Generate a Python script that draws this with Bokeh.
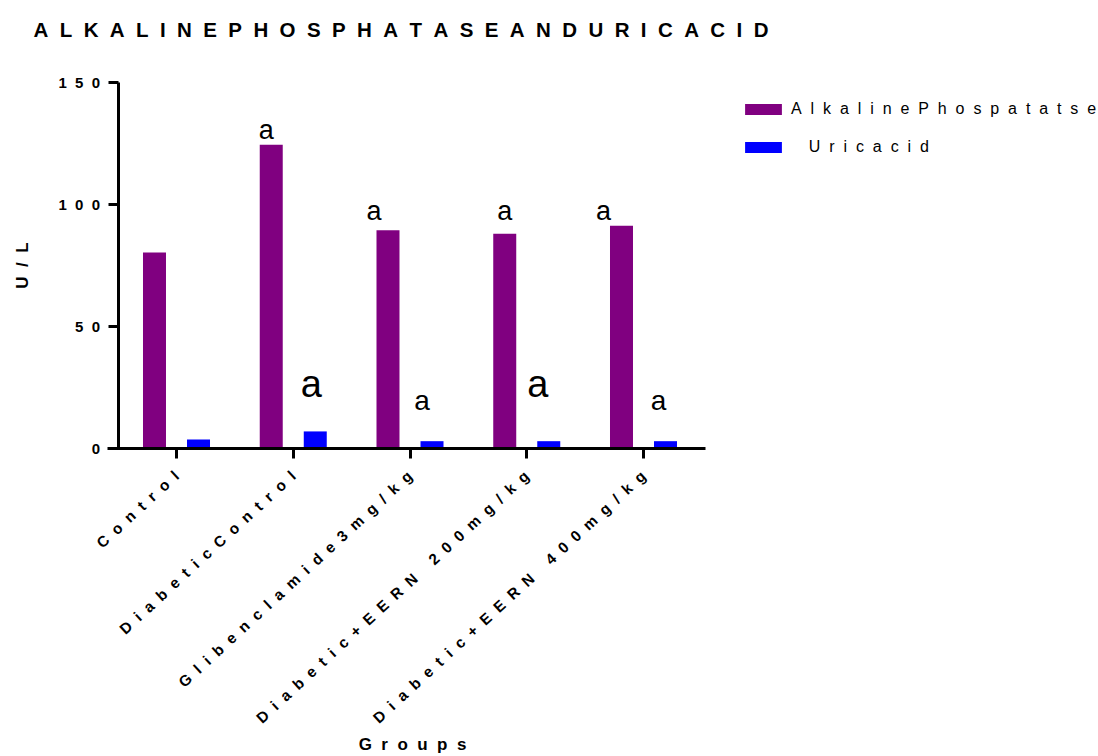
import math

from bokeh.core.properties import value
from bokeh.embed import file_html
from bokeh.models import ColumnDataSource, FixedTicker, Label, Legend, LegendItem
from bokeh.plotting import figure
from bokeh.resources import INLINE
from bokeh.transform import dodge

# ---- data -------------------------------------------------------------
groups = [
    "Control",
    "DiabeticControl",
    "Glibenclamide3mg/kg",
    "Diabetic+EERN 200mg/kg",
    "Diabetic+EERN 400mg/kg",
]
alkaline_phosphatase = [80.3, 124.5, 89.4, 88.0, 91.3]   # U/L
uric_acid = [3.7, 7.0, 3.0, 3.0, 3.0]                    # U/L
y_ticks = [0, 50, 100, 150]
alp_letters = ["", "a", "a", "a", "a"]
uric_letters = ["", "a", "a", "a", "a"]

# ---- helpers -----------------------------------------------------------
GAP = "\u2007"          # wide spacing between glyphs


def spread(s):
    return GAP.join(s)


FONT = "Liberation Sans"
PURPLE = "#800080"
BLUE = "#0000FF"

W, H = 1098, 756
PX_PER_GROUP = 116.75       # horizontal pixels per group
PX_PER_UNIT = 2.44          # vertical pixels per U/L
X0_PX, Y0_PX = 176, 448     # canvas position of (group 0, 0 U/L)

# the frame fills the canvas; axes sit at fixed positions inside it
x_range = (-X0_PX / PX_PER_GROUP, (W - X0_PX) / PX_PER_GROUP)
y_range = (-(H - Y0_PX) / PX_PER_UNIT, Y0_PX / PX_PER_UNIT)
Y_AXIS_AT = -0.5

# ---- figure ------------------------------------------------------------
p = figure(
    width=W, height=H,
    output_backend="svg", toolbar_location=None,
    x_range=x_range, y_range=y_range,
    min_border=0,
)
p.background_fill_color = "white"
p.border_fill_color = "white"
p.outline_line_color = None
p.grid.visible = False

idx = list(range(len(groups)))
src = ColumnDataSource(dict(x=idx, alp=alkaline_phosphatase, uric=uric_acid))

r_alp = p.vbar(x=dodge("x", -0.1885, range=p.x_range), top="alp", width=0.197,
               bottom=0, source=src, fill_color=PURPLE, line_color=None)
r_uric = p.vbar(x=dodge("x", 0.1885, range=p.x_range), top="uric", width=0.197,
                bottom=0, source=src, fill_color=BLUE, line_color=None)

# ---- significance letters ----------------------------------------------
# baseline height in U/L, horizontal nudge px, font size
alp_place = {1: (130.5, -5, "27px"), 2: (97.5, -14, "27px"),
             3: (97.5, 0, "27px"), 4: (97.5, -18, "27px")}
uric_place = {1: (26.5, -4, "38px"), 2: (19.7, -10, "28px"),
              3: (26.5, -11, "38px"), 4: (19.7, -7, "28px")}
lx, ly, lt, lo, ls = [], [], [], [], []
for i, letter in enumerate(alp_letters):
    if letter:
        yy, dx, fs = alp_place[i]
        lx.append(i - 0.1885); ly.append(yy); lt.append(letter); lo.append(dx); ls.append(fs)
for i, letter in enumerate(uric_letters):
    if letter:
        yy, dx, fs = uric_place[i]
        lx.append(i + 0.1885); ly.append(yy); lt.append(letter); lo.append(dx); ls.append(fs)
lsrc = ColumnDataSource(dict(x=lx, y=ly, text=lt, dx=lo, size=ls))
p.text(x="x", y="y", text="text", x_offset="dx", source=lsrc,
       text_align="center", text_baseline="alphabetic",
       text_font=value(FONT), text_font_size="size", text_color="black")

# ---- axes ----------------------------------------------------------------
for ax in (p.xaxis[0], p.yaxis[0]):
    ax.axis_line_width = 3
    ax.axis_line_color = "black"
    ax.major_tick_line_width = 3
    ax.major_tick_line_color = "black"
    ax.major_tick_out = 10
    ax.major_tick_in = 0
    ax.minor_tick_line_color = None
    ax.major_label_text_font = FONT
    ax.major_label_text_font_style = "bold"
    ax.major_label_text_color = "black"

p.xaxis.fixed_location = 0
p.xaxis.bounds = (-0.592, 4.53)
p.xaxis.ticker = FixedTicker(ticks=idx)
p.xaxis.major_label_overrides = {i: spread(g) for i, g in enumerate(groups)}
p.xaxis.major_label_orientation = math.radians(42.6)
p.xaxis.major_label_text_font_size = "15.3px"
p.xaxis.major_label_standoff = 15

p.yaxis.fixed_location = Y_AXIS_AT
p.yaxis.bounds = (0, 150)
p.yaxis.ticker = FixedTicker(ticks=y_ticks)
p.yaxis.major_label_overrides = {t: spread(str(t)) for t in y_ticks}
p.yaxis.major_label_text_font_size = "15px"
p.yaxis.major_label_standoff = 8

# ---- titles (screen px from the frame's bottom-left) -----------------------
title = Label(x=33, y=H - 29, x_units="screen", y_units="screen",
              text=spread("ALKALINEPHOSPHATASEANDURICACID"),
              text_font=FONT, text_font_style="bold", text_font_size="20.5px",
              text_color="black", text_align="left", text_baseline="middle")
x_title = Label(x=412, y=H - 744, x_units="screen", y_units="screen",
                text=spread("Groups"),
                text_font=FONT, text_font_style="bold", text_font_size="17px",
                text_color="black", text_align="center", text_baseline="middle")
y_title = Label(x=22, y=H - 265, x_units="screen", y_units="screen",
                text=spread("U/L"), angle=math.pi / 2,
                text_font=FONT, text_font_style="bold", text_font_size="17px",
                text_color="black", text_align="center", text_baseline="middle")
for lab in (title, x_title, y_title):
    p.add_layout(lab)

# ---- legend --------------------------------------------------------------
legend = Legend(
    items=[
        LegendItem(label=spread("AlkalinePhospatatse"), renderers=[r_alp]),
        LegendItem(label=GAP * 2 + spread("Uricacid"), renderers=[r_uric]),
    ],
    location=(740, 600),
    glyph_width=46, glyph_height=14,
    label_standoff=5, spacing=20, padding=0, margin=0,
    border_line_color=None, background_fill_alpha=0,
    label_text_font=FONT, label_text_font_size="16px", label_text_color="black",
)
p.add_layout(legend)

open("out.html", "w").write(file_html(p, INLINE))
